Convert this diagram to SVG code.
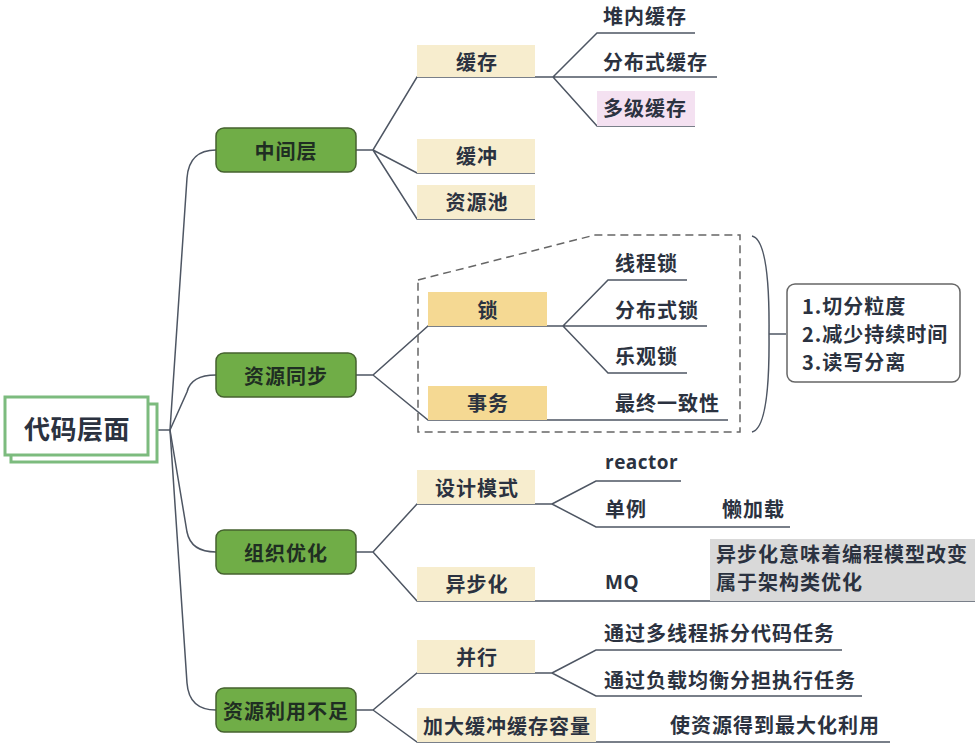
<svg xmlns="http://www.w3.org/2000/svg" width="980" height="752" viewBox="0 0 980 752">
<style>
text{font-family:"Noto Sans CJK SC","Noto Sans",sans-serif;font-weight:bold;fill:#2b3240;dominant-baseline:central}
.c{text-anchor:middle}
.l1 rect{fill:#70ad47;stroke:#45622f;stroke-width:1.5}
.l1 text{font-size:20px;letter-spacing:1px;fill:#1f2e22}
.beige{fill:#f7edce}
.gold{fill:#f5d993}
.t{font-size:20px;letter-spacing:1px}
.en{font-family:"Open Sans","Noto Sans",sans-serif;font-size:19px;letter-spacing:0.5px}
.ln{fill:none;stroke:#4e5663;stroke-width:1.5}
</style>
<rect width="980" height="752" fill="#ffffff"/>
<g id="connectors">
<path class="ln" d="M157,430 L170,430"/>
<path class="ln" d="M170,430 L187,178 Q189,150 216,150"/>
<path class="ln" d="M170,430 L187,392 Q191,375 216,375"/>
<path class="ln" d="M170,430 L187,532 Q191,552 216,552"/>
<path class="ln" d="M170,430 L187,683 Q189,710 216,710"/>
<path class="ln" d="M356,150 L373,150 L417,77 L553,77 M373,150 L417,173 L535,173 M373,150 L417,219 L535,219"/>
<path class="ln" d="M553,77 L597,33 L695,33 M553,77 L717,77 M553,77 L597,126 L695,126"/>
<path class="ln" d="M356,375 L373,375 L428,326 L563,326 M373,375 L428,420 L728,420"/>
<path class="ln" d="M563,326 L608,280 L687,280 M563,326 L707,326 M563,326 L608,373 L687,373"/>
<path class="ln" d="M356,552 L373,552 L417,504 L552,504 M373,552 L417,601 L975,601"/>
<path class="ln" d="M552,504 L596,481 L681,481 M552,504 L596,527 L790,527"/>
<path class="ln" d="M356,710 L373,710 L417,673 L552,673 M373,710 L417,742 L890,742"/>
<path class="ln" d="M552,673 L596,650 L842,650 M552,673 L596,696 L862,696"/>
</g>
<g id="group-box">
<path d="M418,280 L595,235 L740,235 L740,432 L418,432 Z" fill="none" stroke="#666" stroke-width="1.5" stroke-dasharray="8,5"/>
<path d="M752,236 Q770,240 769,334 Q770,428 752,432" fill="none" stroke="#4e5663" stroke-width="1.5"/>
<path d="M769,334 L786,334" stroke="#4e5663" stroke-width="1.5"/>
</g>
<g id="root">
<rect x="11" y="404" width="146" height="58" fill="#fff" stroke="#7cbb7e" stroke-width="3"/>
<rect x="5" y="397" width="143" height="58" fill="#fff" stroke="#7cbb7e" stroke-width="3"/>
<text x="77" y="427" class="c" style="font-size:26px;letter-spacing:0.5px">代码层面</text>
</g>
<g id="n-zhongjianceng" class="l1"><rect x="216" y="128" width="140" height="44" rx="8"/><text x="286" y="150" class="c">中间层</text></g>
<g id="n-ziyuantongbu" class="l1"><rect x="216" y="353" width="140" height="44" rx="8"/><text x="286" y="375" class="c">资源同步</text></g>
<g id="n-zuzhiyouhua" class="l1"><rect x="216" y="530" width="140" height="44" rx="8"/><text x="286" y="552" class="c">组织优化</text></g>
<g id="n-ziyuanliyong" class="l1"><rect x="216" y="688" width="140" height="44" rx="8"/><text x="286" y="710" class="c">资源利用不足</text></g>
<g id="n-huancun"><rect x="417" y="45" width="118" height="32" class="beige"/><text x="477" y="61" class="c t">缓存</text></g>
<g id="n-huanchong"><rect x="417" y="139" width="118" height="34" class="beige"/><text x="477" y="155" class="c t">缓冲</text></g>
<g id="n-ziyuanchi"><rect x="417" y="185" width="118" height="34" class="beige"/><text x="477" y="201" class="c t">资源池</text></g>
<g id="n-duinei"><text x="603" y="15" class="t">堆内缓存</text></g>
<g id="n-fenbushihuancun"><text x="603" y="61" class="t">分布式缓存</text></g>
<g id="n-duoji"><rect x="597" y="91" width="98" height="35" fill="#f4e1f1"/><text x="603" y="107" class="t">多级缓存</text></g>
<g id="n-suo"><rect x="428" y="292" width="119" height="34" class="gold"/><text x="488" y="309" class="c t">锁</text></g>
<g id="n-shiwu"><rect x="428" y="386" width="119" height="34" class="gold"/><text x="488" y="402" class="c t">事务</text></g>
<g id="n-xianchengsuo"><text x="615" y="262" class="t">线程锁</text></g>
<g id="n-fenbushisuo"><text x="615" y="309" class="t">分布式锁</text></g>
<g id="n-leguansuo"><text x="615" y="355" class="t">乐观锁</text></g>
<g id="n-zuizhong"><text x="615" y="402" class="t">最终一致性</text></g>
<g id="n-notes">
<rect x="787" y="284" width="173" height="98" rx="8" fill="#fff" stroke="#666" stroke-width="1.5"/>
<text x="802" y="305" class="t">1.切分粒度</text>
<text x="802" y="333" class="t">2.减少持续时间</text>
<text x="802" y="361" class="t">3.读写分离</text>
</g>
<g id="n-shejimoshi"><rect x="417" y="470" width="118" height="34" class="beige"/><text x="477" y="487" class="c t">设计模式</text></g>
<g id="n-yibuhua"><rect x="417" y="567" width="118" height="34" class="beige"/><text x="477" y="583" class="c t">异步化</text></g>
<g id="n-reactor"><text x="605" y="462" class="t en">reactor</text></g>
<g id="n-danli"><text x="605" y="508" class="t">单例</text></g>
<g id="n-lanjiazai"><text x="722" y="508" class="t">懒加载</text></g>
<g id="n-mq"><text x="605" y="582" class="t en">MQ</text></g>
<g id="n-yibunote"><rect x="710" y="539" width="265" height="62" fill="#d9d9d9"/><text x="716" y="553" class="t">异步化意味着编程模型改变</text><text x="716" y="581" class="t">属于架构类优化</text></g>
<g id="n-bingxing"><rect x="417" y="640" width="118" height="33" class="beige"/><text x="477" y="656" class="c t">并行</text></g>
<g id="n-jiada"><rect x="417" y="708" width="179" height="34" class="beige"/><text x="507" y="725" class="c t">加大缓冲缓存容量</text></g>
<g id="n-duoxiancheng"><text x="604" y="632" class="t">通过多线程拆分代码任务</text></g>
<g id="n-fuzai"><text x="604" y="679" class="t">通过负载均衡分担执行任务</text></g>
<g id="n-shi"><text x="670" y="724" class="t">使资源得到最大化利用</text></g>
</svg>
